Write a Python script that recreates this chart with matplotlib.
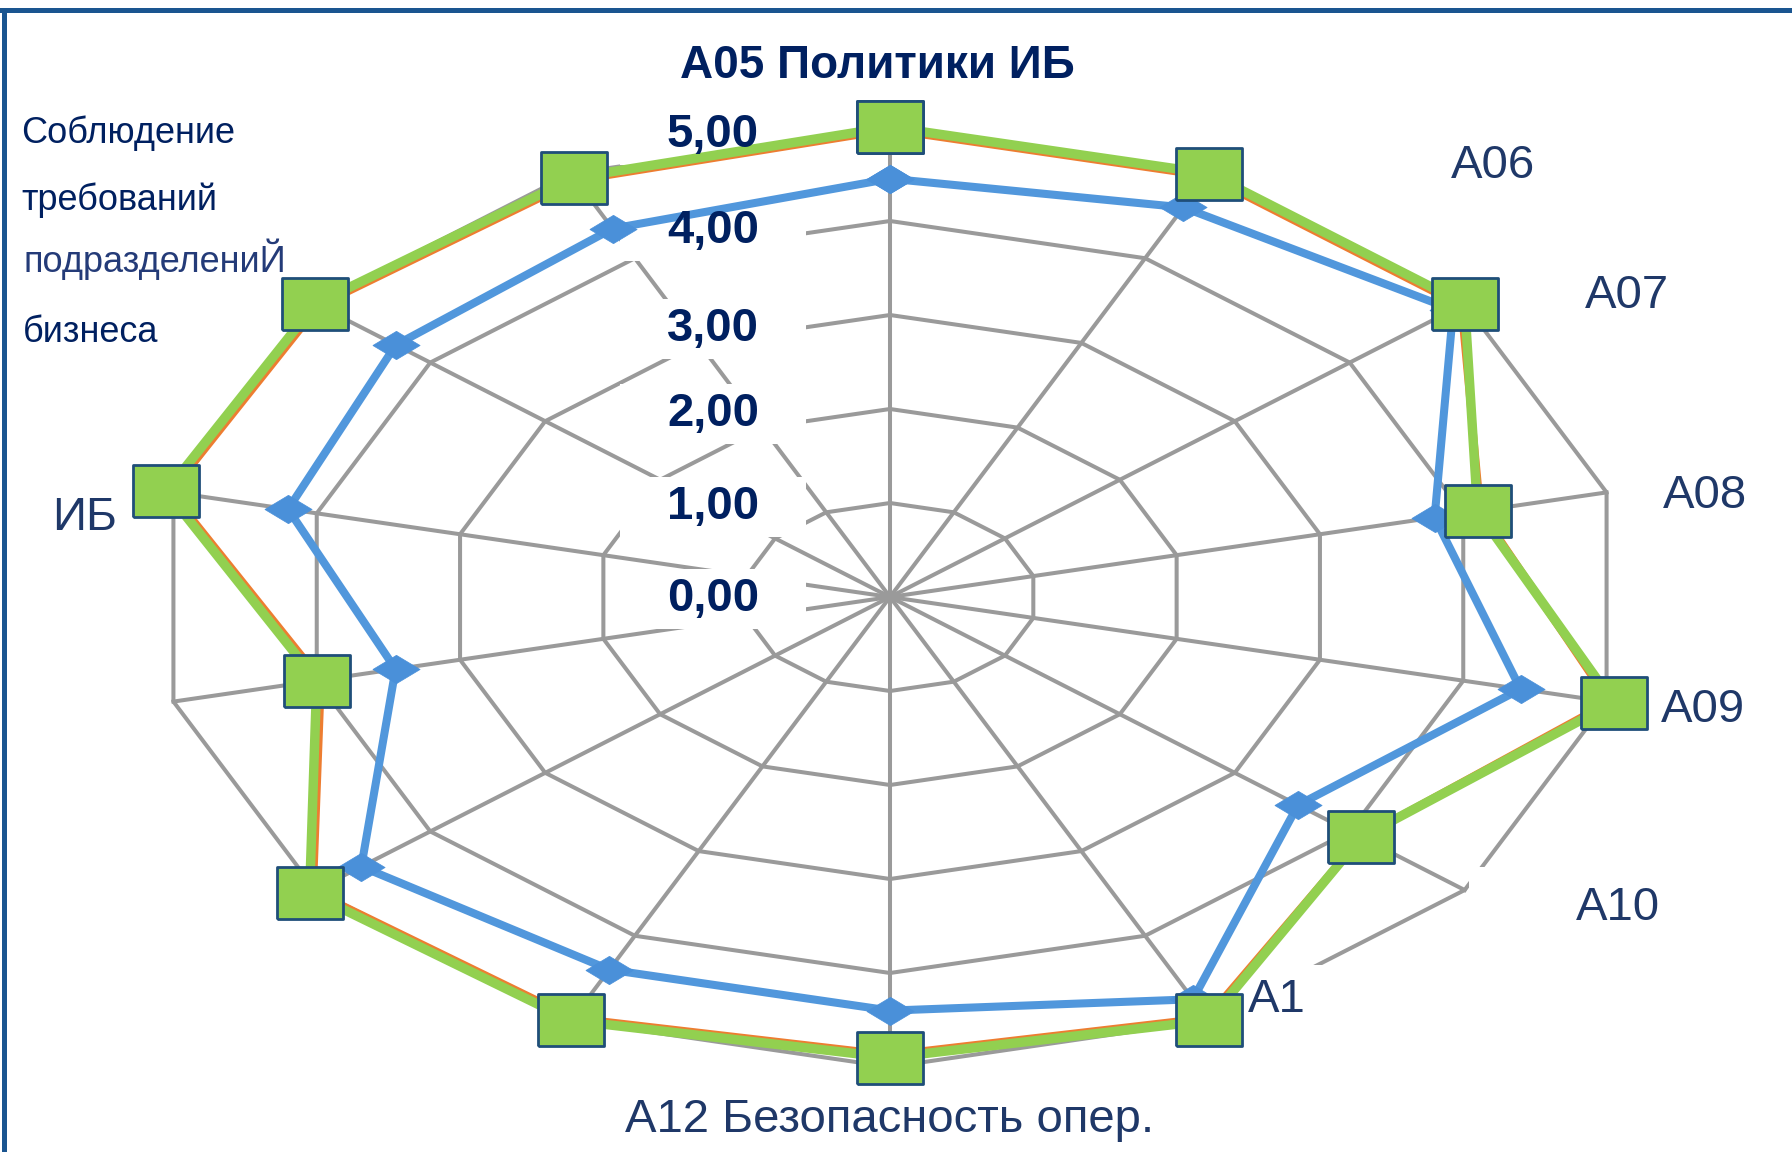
import numpy as np
import matplotlib
matplotlib.use("Agg")
import matplotlib.pyplot as plt
from matplotlib.patches import Rectangle
from matplotlib.lines import Line2D
from matplotlib.transforms import ScaledTranslation

# ---------------- data ----------------
n_axes = 14
series_blue = [4.45, 4.6, 4.9, 3.8, 4.4, 3.55, 4.75, 4.4, 4.4, 4.6, 3.45, 4.2, 4.3, 4.35]
series_orange = [4.97, 4.97, 4.97, 4.12, 5.02, 4.1, 4.97, 4.87, 4.97, 5.02, 3.97, 5.02, 4.97, 4.92]
series_green = [5.0, 5.0, 5.0, 4.1, 5.05, 4.1, 5.0, 4.9, 5.0, 5.05, 4.0, 5.05, 5.0, 4.95]
grid_levels = [1, 2, 3, 4, 5]
tick_values = [0, 1, 2, 3, 4, 5]
tick_labels = ["0,00", "1,00", "2,00", "3,00", "4,00", "5,00"]
title_text = "А05 Политики ИБ"
cat_labels = ["А06", "А07", "А08", "А09", "А10", "А1", "А12 Безопасность опер.", "ИБ"]
left_lines = ["Соблюдение", "требований", "подразделениЙ", "бизнеса"]

# ---------------- figure ----------------
W, H = 1792, 1152
fig = plt.figure(figsize=(W / 100, H / 100), dpi=100)
fig.patch.set_facecolor("white")
FONT = ["Liberation Sans", "DejaVu Sans"]
NAVY = "#002060"
LAB = "#1f3868"

cx, cy, rx, ry = 890, 597, 735, 470
ax = fig.add_axes([(cx - rx) / W, (H - cy - ry) / H, 2 * rx / W, 2 * ry / H],
                  projection="polar")
ax.set_aspect("auto")
ax.set_theta_zero_location("N")
ax.set_theta_direction(-1)
ax.set_ylim(0, 5)
ax.grid(False)
ax.set_xticks([])
ax.set_yticks([])
ax.spines["polar"].set_visible(False)
ax.patch.set_alpha(0)

theta = np.arange(n_axes) * 2 * np.pi / n_axes
theta_c = np.append(theta, theta[0])

def closed(v):
    return np.append(v, v[0])

GRID = "#9a9a9a"
for lvl in grid_levels:
    ax.plot(theta_c, [lvl] * (n_axes + 1), color=GRID, lw=2.9, zorder=1, clip_on=False)
for t in theta:
    ax.plot([t, t], [0, 5], color=GRID, lw=2.9, zorder=1, clip_on=False)

# white patches hiding parts of the grid (as in the reference)
for (x0, y0, x1, y1) in [(1469, 867, 1792, 1000), (1222, 965, 1560, 1100)]:
    ax.add_patch(Rectangle((x0 / W, 1 - y1 / H), (x1 - x0) / W, (y1 - y0) / H,
                           transform=fig.transFigure, facecolor="white",
                           edgecolor="none", zorder=1.5, clip_on=False))

# radial tick labels with white boxes
label_dy = [2, 4, 5, 14, 10, 8]   # pixel nudges downward
for v, lab, dy in zip(tick_values, tick_labels, label_dy):
    off = ScaledTranslation(-1.77, -dy / 100, fig.dpi_scale_trans)
    ax.text(0, v, " " * 13, transform=ax.transData + off,
            ha="center", va="center", fontsize=34, fontweight="bold",
            color="white", family=FONT, zorder=2, clip_on=False,
            bbox=dict(boxstyle="square,pad=0.17", facecolor="white", edgecolor="none"))
    ax.text(0, v, lab, transform=ax.transData + off,
            ha="center", va="center", fontsize=34, fontweight="bold",
            color=NAVY, family=FONT, zorder=8, clip_on=False)

# series
diamond = [(-1, 0), (0, 0.6), (1, 0), (0, -0.6), (-1, 0)]
rect = [(-1, -0.8), (1, -0.8), (1, 0.8), (-1, 0.8), (-1, -0.8)]
ax.plot(theta_c, closed(series_blue), color="#5197dc", lw=5.8, zorder=3,
        marker=diamond, markersize=34, markerfacecolor="#4a90d9",
        markeredgecolor="#4a90d9", markeredgewidth=0.5, clip_on=False)
ax.plot(theta_c, closed(series_orange), color="#ed7d31", lw=5.5, zorder=4, clip_on=False)
ax.plot(theta_c, closed(series_green), color="#92d050", lw=6.8, zorder=5,
        marker=rect, markersize=47, markerfacecolor="#92d050",
        markeredgecolor="#1f4e79", markeredgewidth=2.0, clip_on=False)

# ---------------- texts ----------------
def ftext(x, y, s, **kw):
    fig.text(x / W, 1 - y / H, s, family=FONT, **kw)

ftext(877, 78, title_text, ha="center", va="baseline", fontsize=33,
      fontweight="bold", color=NAVY)

cat_pos = [(1493, 178, "center"), (1627, 308, "center"), (1705, 508, "center"),
           (1703, 722, "center"), (1618, 920, "center"), (1248, 1012, "left"),
           (890, 1132, "center"), (85, 530, "center")]
for (x, y, ha), s in zip(cat_pos, cat_labels):
    ftext(x, y, s, ha=ha, va="baseline", fontsize=34, color=LAB)

left_base = [143, 210, 272, 342]
left_x = [21, 21, 24, 23]
left_col = [NAVY, NAVY, "#243b78", NAVY]
for s, y, x, c in zip(left_lines, left_base, left_x, left_col):
    ftext(x, y, s, ha="left", va="baseline", fontsize=26, color=c)

# frame border
BC = "#1a5590"
fig.add_artist(Line2D([2 / W, 1.0], [1 - 10 / H, 1 - 10 / H], color=BC, lw=3.6,
                      transform=fig.transFigure))
fig.add_artist(Line2D([4 / W, 4 / W], [1 - 10 / H, 0.0], color=BC, lw=3.6,
                      transform=fig.transFigure))

fig.savefig("out.png", dpi=100, facecolor="white")
